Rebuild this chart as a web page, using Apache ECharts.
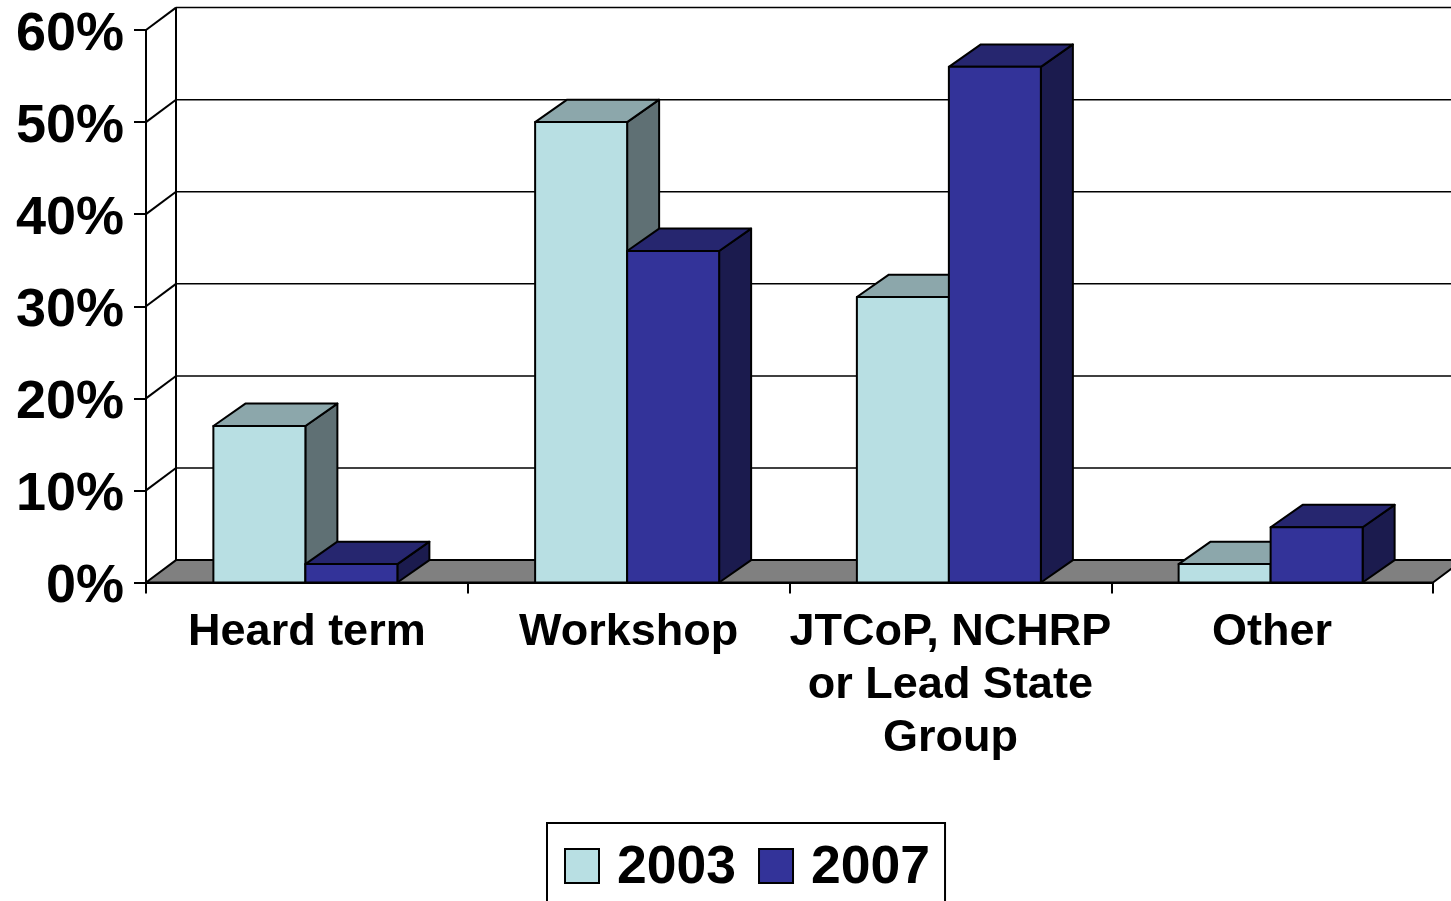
<!DOCTYPE html>
<html>
<head>
<meta charset="utf-8">
<style>
  html, body { margin: 0; padding: 0; background: #fff; overflow: hidden; }
  #chart { width: 1451px; height: 901px; }
</style>
<script src="https://cdn.jsdelivr.net/npm/echarts@6/dist/echarts.min.js"></script>
</head>
<body>
<div id="chart"></div>
<script>
const categories = ['Heard term', 'Workshop', 'JTCoP, NCHRP\nor Lead State\nGroup', 'Other']
const values2003 = [17, 50, 31, 2]
const values2007 = [2, 36, 56, 6]
const tickValues = [0, 10, 20, 30, 40, 50, 60]

// depth of the fake 3d box, in px
const wallDepthX = 30
const barDepthX = 32
const depthY = 22.4
const barWidth = 92
const groupShift = -1.5
const font = '"Liberation Sans", Arial, sans-serif'

const myChart = echarts.init(document.getElementById('chart'), null, { renderer: 'canvas' })

const line = (x1, y1, x2, y2, lineWidth = 2) => ({
  type: 'line',
  shape: { x1, y1, x2, y2 },
  style: { stroke: '#000', lineWidth }
})

const poly = (points, fill) => ({
  type: 'polygon',
  shape: { points },
  style: { fill, stroke: '#000', lineWidth: 2, lineJoin: 'round' }
})

// back wall: floor, side wall and the grid lines behind the bars
const renderWall = (params, api) => {
  const value = api.value(0)
  const y = api.coord([0, value])[1]
  const x0 = params.coordSys.x
  const x1 = x0 + params.coordSys.width
  const children = []
  if (value === 0) {
    children.push(poly([[x0, y], [x0 + wallDepthX, y - depthY], [x1 + wallDepthX, y - depthY], [x1, y]], '#808080'))
    const top = api.coord([0, tickValues[tickValues.length - 1]])[1]
    children.push(line(x0 + wallDepthX, y - depthY, x0 + wallDepthX, top - depthY))
  } else {
    children.push(line(x0 + wallDepthX, y - depthY, x1 + wallDepthX, y - depthY, 1.5))
    children.push(line(x0, y, x0 + wallDepthX, y - depthY))
  }
  return { type: 'group', children }
}

// one 3d bar: front, top and side faces
const renderBar = (front, top, side, offset) => (params, api) => {
  const [cx, y] = api.coord([api.value(0), api.value(1)])
  const base = api.coord([api.value(0), 0])[1]
  const x0 = cx + groupShift + offset
  const x1 = x0 + barWidth
  return {
    type: 'group',
    children: [
      poly([[x1, y], [x1 + barDepthX, y - depthY], [x1 + barDepthX, base - depthY], [x1, base]], side),
      poly([[x0, y], [x0 + barDepthX, y - depthY], [x1 + barDepthX, y - depthY], [x1, y]], top),
      poly([[x0, y], [x1, y], [x1, base], [x0, base]], front)
    ]
  }
}

let option = {}
option = {
  animation: false,
  backgroundColor: '#fff',
  grid: { left: 146, top: 30, width: 1287, height: 552.5, containLabel: false },
  legend: {
    data: ['2003', '2007'],
    left: 547,
    top: 823,
    orient: 'horizontal',
    icon: 'rect',
    itemWidth: 34,
    itemHeight: 34,
    itemGap: 22,
    padding: [18, 15, 30, 17],
    borderColor: '#000',
    borderWidth: 2,
    selectedMode: false,
    formatter: name => `{t|${name}}`,
    textStyle: {
      rich: {
        t: { fontFamily: font, fontWeight: 'bold', fontSize: 53.5, color: '#000', padding: [4, 0, 0, 13] }
      }
    }
  },
  xAxis: {
    type: 'category',
    data: categories,
    boundaryGap: true,
    axisLine: { show: true, onZero: false, lineStyle: { color: '#000', width: 2 } },
    axisTick: { show: true, length: 11, alignWithLabel: false, lineStyle: { color: '#000', width: 2 } },
    axisLabel: {
      interval: 0,
      margin: 24,
      fontFamily: font,
      fontWeight: 'bold',
      fontSize: 45,
      lineHeight: 53,
      color: '#000'
    }
  },
  yAxis: {
    type: 'value',
    min: 0,
    max: 60,
    interval: 10,
    splitLine: { show: false },
    axisLine: { show: true, lineStyle: { color: '#000', width: 2 } },
    axisTick: { show: true, length: 12, lineStyle: { color: '#000', width: 2 } },
    axisLabel: {
      margin: 22,
      verticalAlign: 'top',
      lineHeight: 10,
      formatter: '{value}%',
      fontFamily: font,
      fontWeight: 'bold',
      fontSize: 54,
      color: '#000'
    }
  },
  series: [
    {
      type: 'custom',
      name: 'wall',
      silent: true,
      clip: false,
      z: 1,
      renderItem: renderWall,
      encode: { y: 0 },
      data: tickValues.map(v => [v])
    },
    {
      type: 'custom',
      name: '2003',
      clip: false,
      z: 2,
      color: '#B8DFE3',
      itemStyle: { color: '#B8DFE3', borderColor: '#000', borderWidth: 2 },
      renderItem: renderBar('#B8DFE3', '#8CA7AB', '#5F7074', -barWidth),
      encode: { x: 0, y: 1 },
      data: categories.map((c, i) => [i, values2003[i]])
    },
    {
      type: 'custom',
      name: '2007',
      clip: false,
      z: 3,
      color: '#333399',
      itemStyle: { color: '#333399', borderColor: '#000', borderWidth: 2 },
      renderItem: renderBar('#333399', '#26266F', '#1B1B4E', 0),
      encode: { x: 0, y: 1 },
      data: categories.map((c, i) => [i, values2007[i]])
    }
  ]
}
option && myChart.setOption(option)
</script>
</body>
</html>
